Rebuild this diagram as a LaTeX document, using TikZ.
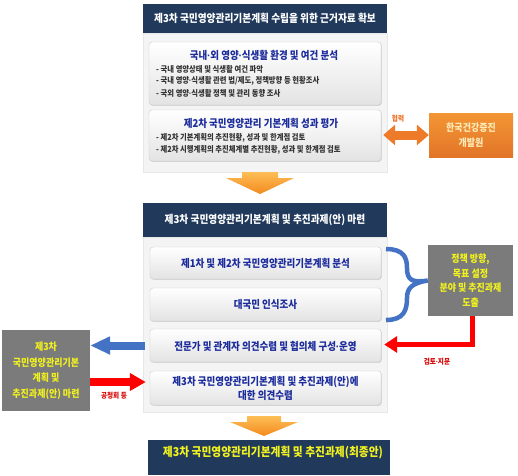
\documentclass[tikz,border=0pt]{standalone}
\usepackage{fontspec}
\setmainfont{Noto Sans CJK KR}[FakeStretch=0.88]
\newfontfamily\dotfont{Liberation Sans}
\newcommand{\md}{{\dotfont\kern-0.3pt·\kern-0.3pt}}
\usetikzlibrary{arrows.meta,shadows,calc}
\definecolor{navy}{HTML}{213A5C}
\definecolor{tblue}{HTML}{1C2C9C}
\definecolor{orA}{HTML}{FDBE55}
\definecolor{orB}{HTML}{F28A1E}
\definecolor{obox}{HTML}{EE7B2A}
\definecolor{gbox}{HTML}{7B7B7B}
\definecolor{yel}{HTML}{F2F21E}
\definecolor{ablue}{HTML}{4472C4}
\definecolor{pale}{HTML}{FFEBB8}
\tikzset{
  hdr/.style={fill=navy, text=white, font=\bfseries\fontsize{11}{12}\selectfont, inner sep=0pt},
  panel/.style={fill=gray!9, draw=gray!18, inner sep=0pt},
  wbox/.style={rounded corners=3pt, top color=white, bottom color=gray!22, draw=gray!40,
     drop shadow={opacity=0.25, shadow xshift=0.8pt, shadow yshift=-0.8pt}, inner sep=0pt},
  ttl/.style={text=tblue, font=\bfseries\fontsize{10.8}{12}\selectfont, inner sep=0pt},
  bul/.style={text=black!80, font=\bfseries\fontsize{8.3}{9}\selectfont, anchor=west, inner sep=0pt},
  gray box/.style={fill=gbox, text=yel, font=\bfseries\fontsize{10.2}{14.5}\selectfont, align=center, inner sep=0pt},
  bigdown/.style={top color=orA, bottom color=orB, draw=none},
  lbl/.style={text=red!85!black, font=\bfseries\fontsize{7.5}{8}\selectfont, inner sep=0pt}
}
\begin{document}
\begin{tikzpicture}[x=1pt,y=-1pt]
\useasboundingbox[fill=white] (0,0) rectangle (518,475);
% section 1
\node[panel, minimum width=244, minimum height=139] (p1) at (265,102.5) {};
\node[hdr, minimum width=244, minimum height=29] (h1) at (265,18.5) {제3차 국민영양관리기본계획 수립을 위한 근거자료 확보};
\node[wbox, minimum width=232, minimum height=63] (b1) at (265,73.5) {};
\node[ttl] (b1t) at (264,55) {국내\md 외 영양\md 식생활 환경 및 여건 분석};
\node[bul] (b1a) at (156,69) {- 국내 영양상태 및 식생활 여건 파악};
\node[bul] (b1b) at (156,81) {- 국내 영양\md 식생활 관련 법/제도, 정책방향 등 현황조사};
\node[bul] (b1c) at (156,93) {- 국외 영양\md 식생활 정책 및 관리 동향 조사};
\node[wbox, minimum width=232, minimum height=51] (b2) at (265,135.5) {};
\node[ttl] (b2t) at (261,123) {제2차 국민영양관리 기본계획 성과 평가};
\node[bul] (b2a) at (156,138) {- 제2차 기본계획의 추진현황, 성과 및  한계점 검토};
\node[bul] (b2b) at (156,150) {- 제2차 시행계획의 추진체계별 추진현황, 성과 및 한계점 검토};
\node[top color=orB!90, bottom color=obox!95!black, text=pale, font=\bfseries\fontsize{10.2}{15}\selectfont, align=center, inner sep=0pt, minimum width=84, minimum height=44] (ob) at (471,135) {한국건강증진\\개발원};
\draw[obox, line width=9pt, {Triangle[length=12pt,width=20pt]}-{Triangle[length=12pt,width=20pt]}] (b2.east |- ob.west) ++(2,0) coordinate (oa) -- (ob.west);
\node[lbl, text=obox!90!red] (hl) at (398,119) {협력};
% arrow 1
\path[bigdown] (242,172) -- (278,172) -- (278,178) -- (294,178) -- (260,194) -- (226,178) -- (242,178) -- cycle;
% section 2
\node[panel, minimum width=244, minimum height=175] (p2) at (265,324.5) {};
\node[hdr, minimum width=244, minimum height=34] (h2) at (265,220) {제3차 국민영양관리기본계획 및 추진과제(안) 마련};
\node[wbox, minimum width=231, minimum height=32] (A) at (265.5,263) {};
\node[ttl] (At) at (265.5,263) {제1차 및 제2차 국민영양관리기본계획 분석};
\node[wbox, minimum width=231, minimum height=33] (B) at (265.5,304.5) {};
\node[ttl] (Bt) at (265.5,304.5) {대국민 인식조사};
\node[wbox, minimum width=231, minimum height=33] (C) at (265.5,345.5) {};
\node[ttl] (Ct) at (265.5,346) {전문가 및 관계자 의견수렴 및 협의체 구성\md 운영};
\node[wbox, minimum width=231, minimum height=34] (D) at (265.5,388) {};
\node[ttl, align=center, font=\bfseries\fontsize{10.8}{14}\selectfont] (Dt) at (265.5,388) {제3차 국민영양관리기본계획 및 추진과제(안)에\\대한 의견수렴};
% right gray box and brace
\node[gray box, minimum width=85, minimum height=71] (G) at (470.5,280.5) {정책 방향,\\목표 설정\\분야 및 추진과제\\도출};
\draw[ablue, line width=4.5pt] (386,249) .. controls (404,249) and (407,258) .. (407,268)
   .. controls (407,280) and (412,283) .. (G.west)
   .. controls (412,283) and (407,288) .. (407,298)
   .. controls (407,310) and (404,320) .. (386,320);
% red elbow arrow
\draw[red, line width=5pt, -{Triangle[length=13pt,width=16pt]}] (G.south -| 472,0) |- ($(C.east)+(3,-1)$);
\node[lbl] (gl) at (437,362) {검토\md 지문};
% left gray box
\node[gray box, minimum width=88, minimum height=81, font=\bfseries\fontsize{10.2}{15.5}\selectfont] (L) at (46,370.5) {제3차\\국민영양관리기본\\계획 및\\추진과제(안) 마련};
\draw[ablue, line width=8pt, -{Triangle[length=20pt,width=17pt]}] ($(C.west)+(-5,0)$) -- (L.east |- C.west);
\draw[red, line width=8pt, -{Triangle[length=16pt,width=17pt]}] (L.east |- 0,382) -- ($(D.west |- 0,382)+(-4,0)$);
\node[lbl] (pl) at (114,396) {공청회 등};
% arrow 2
\path[bigdown] (247,416) -- (281,416) -- (281,422) -- (298,422) -- (264,436) -- (230,422) -- (247,422) -- cycle;
% final header
\node[hdr, minimum width=242, minimum height=35] (h3) at (269,457.5) {};
\node[text=yel, font=\bfseries\fontsize{12.2}{13}\selectfont, inner sep=0pt] (h3t) at (273,453) {제3차 국민영양관리기본계획  및 추진과제(최종안)};
\end{tikzpicture}
\end{document}
